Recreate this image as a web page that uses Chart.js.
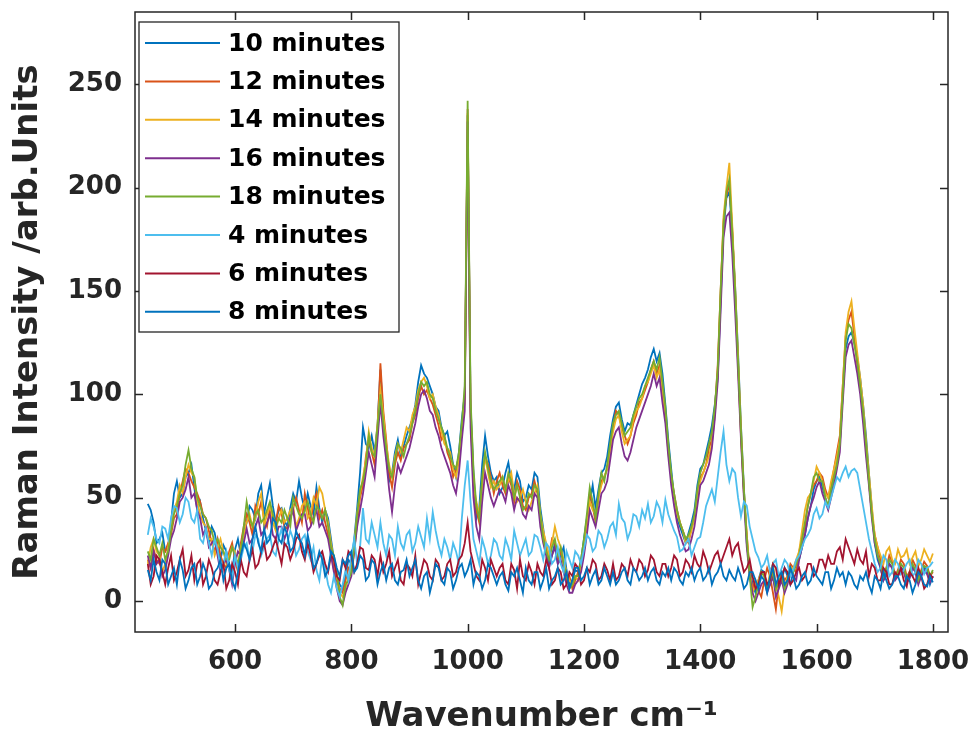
<!DOCTYPE html>
<html>
<head>
<meta charset="utf-8">
<title>Raman spectra</title>
<script src="https://cdn.jsdelivr.net/npm/chart.js@4.4.1/dist/chart.umd.min.js"></script>
<style>
  html, body { margin: 0; padding: 0; background: #fff; }
  #wrap { width: 977px; height: 738px; }
</style>
</head>
<body>
<div id="wrap"><canvas id="spectra" width="977" height="738"></canvas></div>
<script>
// wavenumber grid (cm^-1), one row per 100 cm^-1
const wavenumber = [
  450, 455, 460, 465, 470, 475, 480, 485, 490, 495, 500, 505, 510, 515, 520, 525, 530, 535, 540, 545,
  550, 555, 560, 565, 570, 575, 580, 585, 590, 595, 600, 605, 610, 615, 620, 625, 630, 635, 640, 645,
  650, 655, 660, 665, 670, 675, 680, 685, 690, 695, 700, 705, 710, 715, 720, 725, 730, 735, 740, 745,
  750, 755, 760, 765, 770, 775, 780, 785, 790, 795, 800, 805, 810, 815, 820, 825, 830, 835, 840, 845,
  850, 855, 860, 865, 870, 875, 880, 885, 890, 895, 900, 905, 910, 915, 920, 925, 930, 935, 940, 945,
  950, 955, 960, 965, 970, 975, 980, 985, 990, 995, 1000, 1005, 1010, 1015, 1020, 1025, 1030, 1035, 1040, 1045,
  1050, 1055, 1060, 1065, 1070, 1075, 1080, 1085, 1090, 1095, 1100, 1105, 1110, 1115, 1120, 1125, 1130, 1135, 1140, 1145,
  1150, 1155, 1160, 1165, 1170, 1175, 1180, 1185, 1190, 1195, 1200, 1205, 1210, 1215, 1220, 1225, 1230, 1235, 1240, 1245,
  1250, 1255, 1260, 1265, 1270, 1275, 1280, 1285, 1290, 1295, 1300, 1305, 1310, 1315, 1320, 1325, 1330, 1335, 1340, 1345,
  1350, 1355, 1360, 1365, 1370, 1375, 1380, 1385, 1390, 1395, 1400, 1405, 1410, 1415, 1420, 1425, 1430, 1435, 1440, 1445,
  1450, 1455, 1460, 1465, 1470, 1475, 1480, 1485, 1490, 1495, 1500, 1505, 1510, 1515, 1520, 1525, 1530, 1535, 1540, 1545,
  1550, 1555, 1560, 1565, 1570, 1575, 1580, 1585, 1590, 1595, 1600, 1605, 1610, 1615, 1620, 1625, 1630, 1635, 1640, 1645,
  1650, 1655, 1660, 1665, 1670, 1675, 1680, 1685, 1690, 1695, 1700, 1705, 1710, 1715, 1720, 1725, 1730, 1735, 1740, 1745,
  1750, 1755, 1760, 1765, 1770, 1775, 1780, 1785, 1790, 1795, 1800
];

const min10 = [
  47, 44, 38, 28, 30, 33, 24, 26, 38, 52, 58, 50, 52, 60, 62, 66, 55, 44, 48, 40,
  34, 28, 36, 33, 25, 20, 27, 24, 18, 14, 25, 30, 22, 33, 38, 46, 44, 40, 52, 56,
  42, 50, 57, 46, 38, 44, 45, 39, 36, 45, 52, 48, 58, 50, 44, 52, 46, 42, 55, 45,
  38, 44, 40, 30, 20, 12, 8, 6, 12, 20, 18, 30, 45, 62, 84, 76, 74, 80, 72, 85,
  112, 88, 70, 58, 62, 72, 78, 70, 75, 80, 84, 88, 95, 106, 114, 110, 108, 104, 100, 94,
  92, 84, 80, 82, 75, 66, 60, 72, 88, 100, 235, 95, 62, 40, 45, 66, 80, 70, 62, 58,
  60, 52, 55, 62, 67, 58, 54, 62, 58, 48, 50, 56, 54, 62, 60, 45, 35, 24, 18, 22,
  28, 18, 22, 26, 15, 8, 10, 15, 14, 20, 30, 40, 48, 56, 45, 54, 62, 64, 70, 80,
  88, 94, 96, 88, 82, 86, 85, 90, 95, 100, 105, 108, 112, 118, 122, 116, 120, 110, 95, 78,
  64, 50, 40, 36, 32, 28, 33, 38, 44, 56, 64, 66, 72, 78, 85, 95, 108, 145, 180, 195,
  198, 178, 152, 120, 85, 55, 28, 16, 8, 4, 10, 15, 14, 6, 8, 12, 5, 9, 10, 16,
  12, 8, 14, 18, 20, 26, 32, 40, 46, 54, 58, 60, 55, 50, 45, 52, 60, 66, 76, 100,
  122, 128, 130, 125, 118, 108, 95, 80, 62, 45, 28, 20, 16, 10, 14, 18, 16, 11, 12, 16,
  15, 10, 12, 17, 14, 9, 12, 16, 15, 8, 12
];

const min12 = [
  20, 16, 25, 20, 18, 26, 24, 28, 32, 40, 42, 52, 58, 64, 62, 58, 55, 52, 48, 42,
  40, 34, 28, 24, 30, 22, 18, 16, 24, 28, 20, 14, 28, 36, 42, 38, 32, 46, 42, 48,
  40, 36, 45, 40, 38, 46, 42, 36, 35, 40, 45, 50, 44, 38, 52, 45, 38, 48, 52, 40,
  44, 38, 32, 26, 15, 10, 6, 4, 10, 16, 14, 24, 38, 50, 56, 70, 78, 72, 66, 82,
  115, 92, 78, 62, 55, 66, 72, 68, 74, 76, 78, 86, 90, 98, 104, 100, 102, 98, 95, 90,
  85, 78, 80, 72, 68, 60, 64, 70, 82, 98, 238, 92, 58, 44, 38, 58, 70, 66, 60, 52,
  58, 62, 56, 52, 60, 56, 48, 58, 54, 46, 44, 50, 52, 58, 52, 40, 30, 26, 22, 30,
  28, 20, 24, 18, 10, 12, 6, 10, 14, 18, 26, 38, 52, 46, 38, 50, 58, 60, 64, 74,
  84, 92, 90, 84, 80, 76, 80, 86, 90, 96, 98, 102, 106, 112, 116, 110, 114, 104, 90, 74,
  60, 52, 44, 38, 34, 30, 28, 36, 40, 52, 60, 62, 66, 74, 78, 92, 114, 150, 184, 196,
  202, 180, 148, 115, 80, 52, 32, 14, 6, 10, 5, 2, 10, 16, 12, 4, -4, 8, 14, 10,
  12, 18, 16, 14, 24, 30, 36, 46, 52, 56, 58, 62, 60, 54, 50, 56, 64, 72, 80, 104,
  128, 136, 140, 128, 114, 104, 90, 74, 58, 42, 32, 26, 20, 14, 16, 22, 19, 12, 15, 20,
  18, 12, 14, 20, 17, 11, 15, 19, 17, 12, 14
];

const min14 = [
  18, 26, 30, 24, 22, 14, 18, 26, 36, 44, 48, 56, 52, 60, 66, 62, 60, 48, 42, 38,
  36, 30, 30, 22, 26, 30, 24, 18, 22, 26, 24, 16, 26, 32, 38, 42, 36, 40, 48, 52,
  36, 42, 46, 38, 34, 40, 44, 38, 40, 44, 46, 36, 40, 46, 48, 40, 42, 50, 46, 55,
  52, 44, 38, 28, 20, 12, 4, 2, 6, 12, 16, 28, 42, 52, 60, 68, 82, 74, 70, 86,
  102, 90, 76, 66, 60, 70, 76, 72, 78, 84, 82, 90, 94, 102, 106, 108, 104, 98, 100, 94,
  90, 82, 76, 74, 72, 64, 60, 68, 84, 96, 236, 90, 56, 48, 42, 56, 70, 62, 55, 58,
  54, 56, 60, 54, 58, 62, 52, 48, 50, 54, 48, 44, 48, 52, 56, 42, 34, 28, 22, 28,
  36, 30, 26, 20, 14, 10, 8, 12, 10, 16, 28, 36, 48, 44, 42, 50, 56, 60, 64, 72,
  82, 88, 90, 82, 76, 78, 80, 88, 92, 94, 98, 104, 106, 110, 114, 108, 112, 100, 90, 72,
  60, 50, 42, 38, 34, 28, 30, 34, 40, 50, 58, 62, 66, 70, 76, 90, 110, 148, 186, 200,
  212, 182, 152, 118, 84, 54, 32, 14, 4, 8, 10, 14, 12, 6, 14, 18, 8, 2, -5, 6,
  12, 16, 16, 20, 24, 34, 44, 50, 52, 58, 65, 62, 58, 52, 50, 58, 64, 70, 78, 104,
  130, 140, 145, 132, 120, 108, 95, 78, 62, 46, 32, 26, 22, 18, 24, 26, 20, 18, 25, 21,
  22, 25, 18, 21, 24, 17, 20, 25, 22, 19, 23
];

const min16 = [
  22, 16, 24, 18, 20, 12, 15, 22, 30, 34, 40, 48, 50, 54, 60, 50, 52, 44, 40, 32,
  35, 26, 28, 30, 22, 14, 18, 20, 15, 8, 18, 24, 22, 28, 35, 28, 30, 36, 40, 32,
  34, 38, 42, 32, 30, 36, 36, 30, 34, 40, 44, 34, 38, 42, 42, 34, 36, 40, 44, 36,
  38, 34, 30, 22, 14, 6, 0, -2, 4, 8, 12, 24, 36, 44, 52, 62, 72, 66, 60, 78,
  96, 80, 68, 54, 43, 56, 66, 62, 66, 70, 74, 80, 86, 94, 100, 102, 98, 92, 90, 84,
  80, 74, 70, 66, 62, 56, 52, 62, 78, 92, 232, 84, 50, 36, 30, 48, 62, 56, 50, 46,
  50, 54, 52, 48, 56, 52, 44, 50, 48, 42, 40, 46, 44, 52, 50, 36, 28, 22, 16, 22,
  26, 18, 20, 14, 8, 4, 4, 8, 10, 14, 22, 32, 44, 40, 36, 44, 52, 54, 58, 68,
  78, 82, 84, 76, 70, 68, 72, 78, 84, 88, 92, 96, 100, 104, 110, 104, 108, 96, 86, 70,
  56, 46, 38, 32, 28, 24, 25, 30, 36, 46, 56, 58, 62, 66, 74, 88, 106, 140, 176, 186,
  188, 168, 140, 110, 78, 50, 26, 12, 4, 0, 4, 8, 10, 4, 8, 12, 2, 6, 10, 4,
  8, 14, 12, 10, 20, 26, 32, 40, 46, 50, 55, 58, 52, 48, 44, 50, 56, 64, 72, 96,
  118, 124, 126, 118, 110, 100, 86, 70, 56, 40, 28, 22, 16, 10, 12, 18, 16, 10, 12, 16,
  14, 9, 11, 16, 14, 8, 12, 15, 13, 9, 12
];

const min18 = [
  24, 20, 30, 26, 22, 28, 20, 24, 34, 42, 46, 52, 56, 66, 73, 64, 60, 50, 46, 42,
  40, 36, 34, 28, 30, 26, 24, 20, 20, 26, 22, 18, 24, 36, 48, 40, 36, 42, 44, 38,
  40, 44, 48, 42, 36, 40, 38, 44, 40, 36, 50, 46, 42, 40, 44, 48, 42, 38, 46, 44,
  40, 44, 36, 26, 22, 14, 2, -2, 8, 10, 14, 26, 42, 54, 58, 66, 80, 72, 70, 84,
  100, 86, 74, 64, 60, 68, 76, 74, 70, 76, 80, 86, 92, 100, 106, 104, 106, 100, 98, 92,
  88, 84, 80, 74, 70, 66, 64, 72, 86, 104, 242, 98, 64, 46, 40, 60, 72, 64, 58, 54,
  56, 58, 60, 54, 62, 58, 50, 56, 50, 44, 46, 52, 50, 56, 54, 42, 30, 24, 20, 26,
  30, 22, 26, 18, 12, 6, 8, 12, 12, 20, 30, 42, 55, 48, 40, 52, 62, 58, 66, 76,
  86, 90, 92, 86, 80, 82, 84, 90, 94, 98, 100, 104, 108, 112, 116, 112, 118, 106, 94, 76,
  62, 52, 44, 38, 34, 30, 32, 36, 42, 54, 62, 66, 70, 76, 82, 94, 112, 150, 182, 198,
  204, 178, 150, 116, 82, 54, 30, 12, -3, 2, 8, 14, 12, 6, 10, 14, 6, 10, 12, 6,
  10, 16, 14, 18, 22, 30, 38, 46, 52, 60, 62, 58, 58, 50, 46, 54, 60, 66, 76, 100,
  126, 134, 132, 124, 116, 104, 92, 76, 58, 42, 30, 22, 18, 12, 16, 20, 18, 12, 14, 18,
  16, 11, 14, 18, 15, 10, 14, 17, 16, 12, 15
];

const min4 = [
  32, 40, 36, 30, 28, 36, 35, 30, 40, 46, 45, 38, 42, 50, 48, 40, 38, 44, 30, 28,
  35, 28, 22, 30, 25, 16, 18, 24, 15, 10, 22, 16, 20, 26, 28, 20, 24, 32, 30, 22,
  26, 30, 32, 24, 22, 30, 35, 26, 28, 34, 30, 22, 25, 30, 32, 24, 20, 26, 15, 10,
  22, 16, 8, 4, 12, 6, 2, 8, 15, 10, 22, 30, 18, 26, 45, 30, 28, 38, 32, 26,
  38, 28, 22, 32, 30, 22, 36, 28, 25, 32, 34, 24, 28, 36, 31, 26, 40, 30, 43, 34,
  27, 22, 30, 26, 20, 28, 24, 18, 40, 56, 68, 48, 30, 24, 18, 30, 25, 18, 22, 30,
  28, 22, 20, 30, 26, 20, 34, 28, 22, 26, 30, 22, 24, 32, 31, 26, 20, 28, 26, 18,
  20, 26, 18, 14, 24, 20, 16, 24, 22, 18, 25, 32, 30, 24, 26, 34, 32, 26, 30, 36,
  38, 32, 47, 40, 38, 30, 34, 42, 41, 36, 44, 40, 47, 38, 41, 48, 45, 38, 49, 42,
  38, 34, 31, 24, 25, 28, 30, 22, 26, 30, 31, 38, 46, 50, 54, 48, 60, 72, 82, 66,
  58, 64, 62, 50, 41, 48, 46, 36, 30, 24, 21, 16, 18, 22, 14, 18, 20, 12, 16, 20,
  18, 12, 15, 20, 22, 26, 30, 32, 35, 42, 45, 40, 42, 48, 45, 50, 55, 60, 58, 62,
  65, 60, 63, 64, 62, 54, 46, 38, 30, 24, 18, 14, 16, 22, 20, 12, 14, 20, 18, 13,
  15, 18, 20, 12, 14, 20, 18, 13, 16, 17, 19
];

const min6 = [
  18, 8, 12, 22, 20, 14, 8, 16, 22, 10, 14, 20, 25, 12, 15, 22, 10, 18, 20, 8,
  12, 20, 16, 10, 8, 14, 18, 6, 10, 18, 14, 8, 20, 14, 12, 20, 25, 16, 18, 24,
  28, 20, 22, 26, 30, 24, 18, 28, 26, 20, 24, 30, 32, 24, 20, 28, 22, 14, 18, 22,
  24, 18, 14, 22, 20, 12, 10, 20, 16, 24, 22, 14, 18, 26, 25, 16, 15, 22, 20, 12,
  22, 14, 18, 24, 12, 16, 20, 10, 8, 18, 16, 12, 22, 8, 14, 20, 18, 12, 10, 20,
  18, 10, 12, 18, 20, 12, 14, 20, 22, 28, 38, 24, 18, 12, 10, 20, 16, 10, 20, 16,
  12, 16, 18, 10, 8, 18, 15, 6, 20, 12, 10, 18, 14, 8, 18, 14, 12, 20, 16, 8,
  10, 16, 14, 6, 8, 14, 12, 18, 16, 8, 10, 16, 14, 20, 18, 10, 12, 18, 15, 10,
  18, 10, 12, 18, 16, 12, 20, 16, 14, 20, 18, 12, 15, 22, 20, 14, 12, 18, 18, 12,
  16, 22, 20, 12, 14, 20, 18, 14, 22, 18, 16, 24, 20, 14, 18, 22, 24, 18, 22, 26,
  30, 22, 26, 28, 20, 14, 16, 20, 12, 6, 8, 14, 14, 8, 10, 18, 16, 8, 12, 16,
  14, 8, 10, 14, 16, 10, 12, 18, 18, 12, 14, 20, 20, 16, 22, 18, 18, 24, 26, 20,
  30, 26, 22, 18, 25, 20, 18, 24, 12, 18, 16, 10, 10, 16, 14, 8, 8, 14, 12, 16,
  10, 7, 14, 12, 9, 16, 12, 6, 8, 13, 11
];

const min8 = [
  15, 10, 20, 14, 10, 20, 18, 8, 12, 16, 8, 20, 15, 6, 10, 16, 18, 8, 12, 18,
  14, 6, 8, 14, 16, 20, 10, 16, 18, 10, 6, 14, 22, 28, 25, 20, 30, 36, 28, 24,
  35, 28, 30, 40, 38, 30, 28, 36, 32, 24, 26, 34, 30, 28, 22, 32, 25, 16, 18, 24,
  20, 12, 15, 24, 22, 16, 12, 20, 18, 22, 24, 14, 16, 22, 20, 10, 12, 20, 18, 8,
  14, 18, 10, 16, 18, 10, 8, 14, 15, 20, 12, 16, 20, 10, 6, 12, 14, 4, 10, 18,
  16, 10, 8, 16, 14, 6, 10, 16, 18, 12, 15, 20, 8, 14, 12, 6, 10, 18, 16, 12,
  8, 12, 14, 8, 5, 14, 12, 16, 10, 4, 16, 10, 8, 14, 14, 6, 10, 16, 6, 10,
  12, 16, 8, 10, 14, 6, 10, 16, 16, 10, 12, 16, 8, 12, 15, 8, 10, 16, 12, 8,
  14, 8, 10, 14, 16, 10, 8, 16, 14, 10, 12, 16, 10, 14, 16, 10, 8, 14, 12, 16,
  10, 16, 14, 10, 8, 14, 12, 16, 10, 14, 16, 10, 12, 16, 8, 12, 14, 18, 12, 10,
  15, 12, 10, 16, 12, 6, 8, 14, 14, 10, 6, 12, 10, 4, 12, 16, 8, 12, 14, 8,
  10, 16, 12, 6, 8, 12, 14, 8, 10, 16, 12, 10, 8, 14, 14, 6, 10, 16, 12, 14,
  8, 14, 12, 8, 6, 12, 10, 14, 8, 4, 12, 10, 6, 14, 10, 6, 8, 12, 12, 8,
  6, 12, 10, 4, 8, 14, 12, 8, 7, 12, 9
];

const seriesLabels = ["10 minutes", "12 minutes", "14 minutes", "16 minutes",
  "18 minutes", "4 minutes", "6 minutes", "8 minutes"];
const seriesValues = [min10, min12, min14, min16, min18, min4, min6, min8];
const seriesColors = ["#0072BD", "#D95319", "#EDB120", "#7E2F8E",
  "#77AC30", "#4DBEEE", "#A2142F", "#0072BD"];

const xTicks = [600, 800, 1000, 1200, 1400, 1600, 1800];
const yTicks = [0, 50, 100, 150, 200, 250];

const INK = "#262626";
const FONT = "DejaVu Sans";

// frame around the plot with inward tick marks on every side
const boxAxes = {
  id: "boxAxes",
  afterDatasetsDraw(chart) {
    const { ctx, chartArea: a, scales } = chart;
    const len = 8;
    ctx.save();
    ctx.strokeStyle = INK;
    ctx.lineWidth = 1.5;
    ctx.beginPath();
    scales.x.ticks.forEach((t) => {
      const px = Math.round(scales.x.getPixelForValue(t.value)) + 0.5;
      ctx.moveTo(px, a.bottom);
      ctx.lineTo(px, a.bottom - len);
      ctx.moveTo(px, a.top);
      ctx.lineTo(px, a.top + len);
    });
    scales.y.ticks.forEach((t) => {
      const py = Math.round(scales.y.getPixelForValue(t.value)) + 0.5;
      ctx.moveTo(a.left, py);
      ctx.lineTo(a.left + len, py);
      ctx.moveTo(a.right, py);
      ctx.lineTo(a.right - len, py);
    });
    ctx.stroke();
    ctx.strokeRect(a.left, a.top, a.right - a.left, a.bottom - a.top);
    ctx.restore();
  }
};

// boxed legend in the upper-left corner of the axes
const boxLegend = {
  id: "boxLegend",
  afterDraw(chart) {
    const { ctx } = chart;
    const left = 139, top = 22, w = 260, h = 310, rowH = 38.4;
    ctx.save();
    ctx.fillStyle = "#fff";
    ctx.fillRect(left, top, w, h);
    ctx.strokeStyle = INK;
    ctx.lineWidth = 1.3;
    ctx.strokeRect(left, top, w, h);
    ctx.font = "bold 25px '" + FONT + "'";
    ctx.textBaseline = "middle";
    chart.data.datasets.forEach((ds, i) => {
      const y = top + 21 + i * rowH;
      ctx.strokeStyle = ds.borderColor;
      ctx.lineWidth = 2;
      ctx.beginPath();
      ctx.moveTo(left + 6, y);
      ctx.lineTo(left + 81, y);
      ctx.stroke();
      ctx.fillStyle = "#000";
      ctx.fillText(ds.label, left + 89, y + 1);
    });
    ctx.restore();
  }
};

const datasets = seriesLabels.map((label, i) => ({
  label,
  data: wavenumber.map((x, k) => ({ x, y: seriesValues[i][k] })),
  borderColor: seriesColors[i],
  backgroundColor: seriesColors[i],
  borderWidth: 1.8,
  pointRadius: 0,
  tension: 0,
  // later series are drawn on top
  order: seriesLabels.length - i,
}));

new Chart(document.getElementById("spectra"), {
  type: "line",
  data: { datasets },
  options: {
    responsive: false,
    animation: false,
    devicePixelRatio: 1,
    layout: { padding: { top: 12, right: 29, left: 0, bottom: 0 } },
    plugins: {
      legend: { display: false },
      tooltip: { enabled: false },
    },
    scales: {
      x: {
        type: "linear",
        min: 428,
        max: 1826,
        afterBuildTicks: (s) => { s.ticks = xTicks.map((v) => ({ value: v })); },
        afterFit: (s) => {
          s.height = 106;
          s.paddingLeft = 0;
          s.paddingRight = 0;
        },
        grid: { display: false, drawTicks: false },
        border: { display: false },
        ticks: {
          color: INK,
          padding: 15,
          maxRotation: 0,
          autoSkip: false,
          font: { family: FONT, size: 26, weight: "bold" },
          callback: (v) => String(v),
        },
        title: {
          display: true,
          text: "Wavenumber cm⁻¹",
          color: INK,
          font: { family: FONT, size: 34, weight: "bold" },
          padding: { top: 2, bottom: 0 },
        },
      },
      y: {
        min: -15,
        max: 285,
        afterBuildTicks: (s) => { s.ticks = yTicks.map((v) => ({ value: v })); },
        afterFit: (s) => {
          s.width = 135;
          s.paddingTop = 0;
          s.paddingBottom = 0;
        },
        grid: { display: false, drawTicks: false },
        border: { display: false },
        ticks: {
          color: INK,
          padding: 13,
          font: { family: FONT, size: 26, weight: "bold" },
          callback: (v) => String(v),
        },
        title: {
          display: true,
          text: "Raman Intensity /arb.Units",
          color: INK,
          font: { family: FONT, size: 34, weight: "bold" },
          padding: { top: 8, bottom: 0 },
        },
      },
    },
  },
  plugins: [boxAxes, boxLegend],
});
</script>
</body>
</html>
